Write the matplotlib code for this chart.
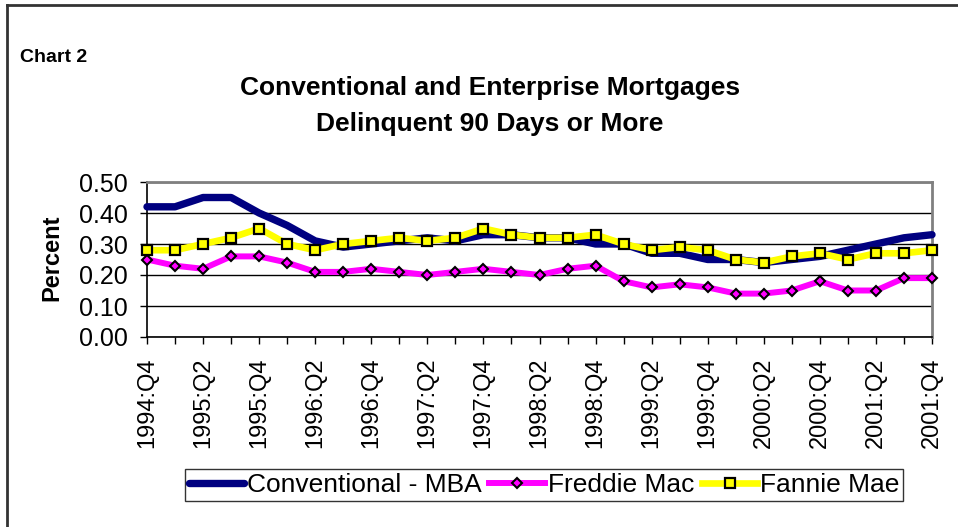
import matplotlib
matplotlib.use('Agg')
import matplotlib.pyplot as plt
from matplotlib.lines import Line2D

plt.rcParams['font.family'] = ['Liberation Sans', 'DejaVu Sans']

quarters = ['1994:Q4',
            '1995:Q1', '1995:Q2', '1995:Q3', '1995:Q4',
            '1996:Q1', '1996:Q2', '1996:Q3', '1996:Q4',
            '1997:Q1', '1997:Q2', '1997:Q3', '1997:Q4',
            '1998:Q1', '1998:Q2', '1998:Q3', '1998:Q4',
            '1999:Q1', '1999:Q2', '1999:Q3', '1999:Q4',
            '2000:Q1', '2000:Q2', '2000:Q3', '2000:Q4',
            '2001:Q1', '2001:Q2', '2001:Q3', '2001:Q4']

conventional = [0.42, 0.42, 0.45, 0.45, 0.40, 0.36, 0.31, 0.29, 0.30, 0.31,
                0.32, 0.31, 0.33, 0.33, 0.32, 0.32, 0.30, 0.30, 0.27, 0.27,
                0.25, 0.25, 0.24, 0.25, 0.26, 0.28, 0.30, 0.32, 0.33]
freddie = [0.25, 0.23, 0.22, 0.26, 0.26, 0.24, 0.21, 0.21, 0.22, 0.21,
           0.20, 0.21, 0.22, 0.21, 0.20, 0.22, 0.23, 0.18, 0.16, 0.17,
           0.16, 0.14, 0.14, 0.15, 0.18, 0.15, 0.15, 0.19, 0.19]
fannie = [0.28, 0.28, 0.30, 0.32, 0.35, 0.30, 0.28, 0.30, 0.31, 0.32,
          0.31, 0.32, 0.35, 0.33, 0.32, 0.32, 0.33, 0.30, 0.28, 0.29,
          0.28, 0.25, 0.24, 0.26, 0.27, 0.25, 0.27, 0.27, 0.28]

fig = plt.figure(figsize=(9.58, 5.27), dpi=100)
ax = fig.add_axes([147/958, 1-337/527, 785/958, 155/527])

x = list(range(len(quarters)))
ax.plot(x, conventional, color='#000080', lw=5.3, solid_capstyle='round',
        label='Conventional - MBA', zorder=3, clip_on=False)
ax.plot(x, freddie, color='#FF00FF', lw=4.3, marker='D', ms=5,
        mfc='#FF00FF', mec='black', mew=1.5, label='Freddie Mac', zorder=4,
        clip_on=False)
ax.plot(x, fannie, color='#FFFF00', lw=4.8, marker='s', ms=6.5,
        mfc='#FFFF00', mec='black', mew=1.6, label='Fannie Mae', zorder=5,
        clip_on=False)

ax.set_xlim(0, len(quarters) - 1)
ax.set_ylim(0, 0.5)
ax.set_yticks([0, 0.1, 0.2, 0.3, 0.4, 0.5])
ax.set_yticklabels(['%.2f' % v for v in ax.get_yticks()], fontsize=18)
ax.set_xticks(x)
ax.set_xticklabels([q if i % 2 == 0 else '' for i, q in enumerate(quarters)],
                   rotation=90, fontsize=17)
ax.tick_params(direction='out', length=5, width=1, color='black')
ax.tick_params(axis='y', pad=9)
ax.tick_params(axis='x', pad=10)
ax.yaxis.grid(True, color='black', lw=1)
ax.set_axisbelow(True)
for s in ['left', 'bottom']:
    ax.spines[s].set_color('black')
    ax.spines[s].set_linewidth(1.2)
for s in ['top', 'right']:
    ax.spines[s].set_color('#808080')
    ax.spines[s].set_linewidth(2)

fig.text(52/958, 1-258/527, 'Percent', rotation=90, fontsize=17,
         fontweight='bold', ha='center', va='center')
fig.text(20/958, 1-57/527, 'Chart 2', fontsize=14, fontweight='bold',
         ha='left', va='center')
fig.text(490/958, 1-88/527, 'Conventional and Enterprise Mortgages',
         fontsize=19, fontweight='bold', ha='center', va='center')
fig.text(490/958, 1-124/527, 'Delinquent 90 Days or More',
         fontsize=19, fontweight='bold', ha='center', va='center')

leg = fig.legend(loc='center', bbox_to_anchor=(544/958, 1-485/527), ncol=3,
                 fontsize=19, frameon=True, fancybox=False, handlelength=2.1,
                 handletextpad=0.1, columnspacing=0.3, borderpad=0.15,
                 borderaxespad=0)
leg.get_frame().set_edgecolor('black')
leg.get_frame().set_linewidth(1)

fig.add_artist(Line2D([7/958, 7/958], [0, 1-5/527], color='#333333', lw=2))
fig.add_artist(Line2D([7/958, 1], [1-5/527, 1-5/527], color='#333333', lw=2))

fig.savefig('out.png', dpi=100)
